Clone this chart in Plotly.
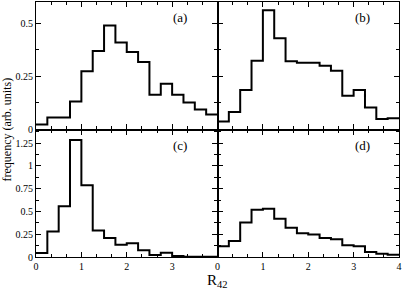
import plotly.graph_objects as go
import numpy as np

bin_width = 0.25
panel_a = [0.024, 0.057, 0.057, 0.132, 0.274, 0.37, 0.49, 0.409, 0.365, 0.318, 0.164, 0.215, 0.164, 0.127, 0.094, 0.071]
panel_b = [0.038, 0.082, 0.186, 0.324, 0.561, 0.429, 0.321, 0.314, 0.314, 0.30, 0.277, 0.159, 0.186, 0.104, 0.049, 0.053]
panel_c = [0.044, 0.28, 0.558, 1.286, 0.787, 0.29, 0.208, 0.135, 0.15, 0.073, 0.022, 0.047, 0.011, 0.003, 0.002, 0.002]
panel_d = [0.118, 0.176, 0.38, 0.52, 0.53, 0.42, 0.32, 0.26, 0.246, 0.21, 0.195, 0.129, 0.118, 0.055, 0.037, 0.026]
labels = ["(a)", "(b)", "(c)", "(d)"]

FONT = "Liberation Serif"
fig = go.Figure()

panels = [panel_a, panel_b, panel_c, panel_d]
axes = [("x", "y"), ("x2", "y2"), ("x3", "y3"), ("x4", "y4")]
for vals, (xa, ya) in zip(panels, axes):
    edges = np.arange(len(vals) + 1) * bin_width
    xs = list(edges)
    ys = list(vals) + [vals[-1]]
    fig.add_trace(go.Scatter(x=xs, y=ys, mode="lines", line=dict(shape="hv", color="black", width=2),
                             xaxis=xa, yaxis=ya, showlegend=False, hoverinfo="skip"))

common = dict(showline=True, linecolor="black", linewidth=1.2, mirror="ticks", ticks="inside",
              ticklen=5, tickwidth=1, tickcolor="black", showgrid=False, zeroline=False,
              tickfont=dict(family=FONT, size=10, color="black"))

xdomains = {1: [0, 0.5], 2: [0.5, 1], 3: [0, 0.5], 4: [0.5, 1]}
ydomains = {1: [0.5, 1], 2: [0.5, 1], 3: [0, 0.5], 4: [0, 0.5]}
layout = {}
for i in range(1, 5):
    xname = "xaxis" if i == 1 else f"xaxis{i}"
    yname = "yaxis" if i == 1 else f"yaxis{i}"
    bottom = i in (3, 4)
    left = i in (1, 3)
    xt = dict(common)
    xt.update(domain=xdomains[i], range=[0, 4], dtick=1, tick0=0,
              minor=dict(dtick=1/3, tick0=0, ticks="inside", ticklen=3, tickcolor="black"),
              showticklabels=bottom, anchor=f"y{'' if i == 1 else i}")
    if i == 3:
        xt.update(tickmode="array", tickvals=[0, 1, 2, 3], ticktext=["0", "1", "2", "3"])
    yt = dict(common)
    ymax = 0.6 if i in (1, 2) else 1.4
    yt.update(domain=ydomains[i], range=[0, ymax], dtick=0.25, tick0=0,
              minor=dict(dtick=0.125, tick0=0, ticks="inside", ticklen=3, tickcolor="black"),
              showticklabels=left, anchor=f"x{'' if i == 1 else i}")
    if i == 1:
        yt.update(tickmode="array", tickvals=[0, 0.25, 0.5], ticktext=["0", "0.25", "0.5"])
    if i == 3:
        yt.update(tickmode="array", tickvals=[0, 0.25, 0.5, 0.75, 1, 1.25],
                  ticktext=["0", "0.25", "0.5", "0.75", "1", "1.25"])
    layout[xname] = xt
    layout[yname] = yt

fig.update_layout(**layout)

annots = []
pos = [(0.397, 0.941), (0.90, 0.941), (0.397, 0.439), (0.90, 0.439)]
for lab, (px, py) in zip(labels, pos):
    annots.append(dict(text=lab, x=px, y=py, xref="paper", yref="paper", showarrow=False,
                       xanchor="center", yanchor="middle",
                       font=dict(family=FONT, size=13, color="black")))
annots.append(dict(text="frequency (arb. units)", x=-0.08, y=0.5, xref="paper", yref="paper",
                   xanchor="center", yanchor="middle", textangle=-90, showarrow=False,
                   font=dict(family=FONT, size=12, color="black")))
annots.append(dict(text="R<sub>42</sub>", x=0.5, y=-0.05, xref="paper", yref="paper",
                   xanchor="center", yanchor="top", showarrow=False,
                   font=dict(family=FONT, size=15, color="black")))

fig.update_layout(width=403, height=289, margin=dict(l=36, r=4, t=2, b=32),
                  font=dict(family=FONT, color="black"),
                  paper_bgcolor="white", plot_bgcolor="white", annotations=annots)

fig.write_html("out.html", config={"displayModeBar": False},
               post_script="document.body.style.margin='0';document.body.style.padding='0';document.body.style.overflow='hidden';")
